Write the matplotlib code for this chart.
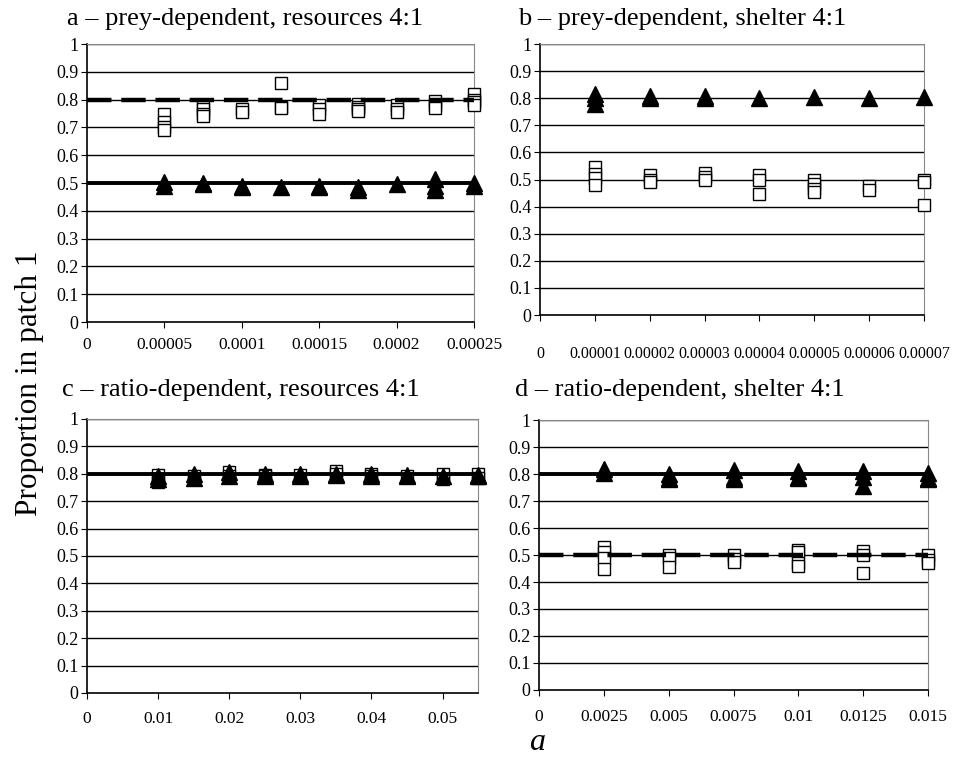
import numpy as np
import matplotlib
matplotlib.use("Agg")
import matplotlib.pyplot as plt

plt.rcParams["font.family"] = ["Liberation Serif", "DejaVu Serif"]

# ---- data: replicate values per a value ----
# panel a - prey-dependent, resources 4:1
a_x = [0.00005, 0.000075, 0.0001, 0.000125, 0.00015, 0.000175, 0.0002, 0.000225, 0.00025]
a_sq = [[0.75, 0.72, 0.70, 0.69], [0.78, 0.765, 0.75, 0.74], [0.765, 0.755],
        [0.86, 0.775, 0.77], [0.78, 0.765, 0.75], [0.785, 0.775, 0.765, 0.76],
        [0.78, 0.765, 0.755], [0.795, 0.78, 0.77], [0.82, 0.80, 0.79, 0.78]]
a_tri = [[0.505, 0.49], [0.50, 0.495], [0.49, 0.485], [0.485], [0.485, 0.49],
         [0.485, 0.475], [0.495], [0.515, 0.49, 0.475], [0.50, 0.49]]

# panel b - prey-dependent, shelter 4:1
b_x = [0.00001, 0.00002, 0.00003, 0.00004, 0.00005, 0.00006, 0.00007]
b_sq = [[0.545, 0.52, 0.505, 0.48], [0.515, 0.50, 0.49], [0.525, 0.51, 0.50],
        [0.515, 0.50, 0.445], [0.50, 0.485, 0.465, 0.455], [0.475, 0.46],
        [0.50, 0.49, 0.405]]
b_tri = [[0.815, 0.80, 0.78], [0.81, 0.80], [0.81, 0.80], [0.80], [0.805], [0.80], [0.805]]

# panel c - ratio-dependent, resources 4:1
c_x = [0.01, 0.015, 0.02, 0.025, 0.03, 0.035, 0.04, 0.045, 0.05, 0.055]
c_sq = [[0.795, 0.77], [0.79, 0.78], [0.805, 0.79], [0.795, 0.79], [0.795],
        [0.81, 0.80], [0.80, 0.79], [0.79], [0.80, 0.78], [0.80, 0.785]]
c_tri = [[0.79, 0.78], [0.80, 0.785], [0.805, 0.79], [0.80, 0.79], [0.80, 0.79],
         [0.80, 0.795], [0.80, 0.79], [0.795, 0.79], [0.79], [0.795, 0.79]]

# panel d - ratio-dependent, shelter 4:1
d_x = [0.0025, 0.005, 0.0075, 0.01, 0.0125, 0.015]
d_sq = [[0.53, 0.51, 0.49, 0.45], [0.50, 0.49, 0.455], [0.50, 0.485, 0.475],
        [0.52, 0.51, 0.47, 0.46], [0.515, 0.50, 0.435], [0.50, 0.48, 0.47]]
d_tri = [[0.82, 0.805], [0.80, 0.785, 0.78], [0.815, 0.79, 0.78],
         [0.81, 0.79, 0.785], [0.81, 0.79, 0.755], [0.805, 0.785, 0.78]]

titles = ["a \u2013 prey-dependent, resources 4:1", "b \u2013 prey-dependent, shelter 4:1",
          "c \u2013 ratio-dependent, resources 4:1", "d \u2013 ratio-dependent, shelter 4:1"]
a_ticks = [0, 0.00005, 0.0001, 0.00015, 0.0002, 0.00025]
a_ticklabels = ["0", "0.00005", "0.0001", "0.00015", "0.0002", "0.00025"]
b_ticks = [0, 0.00001, 0.00002, 0.00003, 0.00004, 0.00005, 0.00006, 0.00007]
b_ticklabels = ["0", "0.00001", "0.00002", "0.00003", "0.00004", "0.00005", "0.00006", "0.00007"]
c_ticks = [0, 0.01, 0.02, 0.03, 0.04, 0.05]
c_ticklabels = ["0", "0.01", "0.02", "0.03", "0.04", "0.05"]
d_ticks = [0, 0.0025, 0.005, 0.0075, 0.01, 0.0125, 0.015]
d_ticklabels = ["0", "0.0025", "0.005", "0.0075", "0.01", "0.0125", "0.015"]
y_ticks = [round(0.1 * i, 1) for i in range(11)]
y_ticklabels = ["0", "0.1", "0.2", "0.3", "0.4", "0.5", "0.6", "0.7", "0.8", "0.9", "1"]

# expected proportions (solid / dashed reference lines)
a_solid, a_dash = 0.5, 0.8
c_solid = 0.8
d_solid, d_dash = 0.8, 0.5

fig = plt.figure(figsize=(9.66, 7.62), dpi=100)


def flat(xs, groups):
    px, py = [], []
    for x, ys in zip(xs, groups):
        for v in ys:
            px.append(x)
            py.append(v)
    return px, py


def panel(rect, xs, sq, tri, xmax, ticks, ticklabels, xfs=12.5, xpad=7,
          solid=None, dash=None):
    ax = fig.add_axes(rect)
    ax.set_xlim(0, xmax)
    ax.set_ylim(0, 1)
    for yv in y_ticks[1:]:
        ax.axhline(yv, color="black", lw=1.0, zorder=1)
    ax.spines["top"].set_color("#888888")
    ax.spines["right"].set_color("#888888")
    ax.spines["left"].set_linewidth(1.2)
    ax.spines["bottom"].set_linewidth(1.2)
    ax.set_xticks(ticks)
    ax.set_xticklabels(ticklabels, fontsize=xfs)
    ax.set_yticks(y_ticks)
    ax.set_yticklabels(y_ticklabels, fontsize=13)
    ax.tick_params(axis="x", direction="out", length=4, pad=xpad)
    ax.tick_params(axis="y", direction="out", length=4, pad=2)
    sx, sy = flat(xs, sq)
    ax.plot(sx, sy, "s", ms=8.5, mfc="white", mec="black", mew=1.0,
            zorder=3, clip_on=False)
    tx, ty = flat(xs, tri)
    ax.plot(tx, ty, "^", ms=11, mfc="black", mec="black", zorder=4, clip_on=False)
    if solid is not None:
        ax.plot([0, xmax], [solid, solid], color="black", lw=2.8, zorder=5,
                solid_capstyle="butt")
    if dash is not None:
        ax.plot([0, xmax], [dash, dash], color="black", lw=3.2, zorder=5,
                dashes=(5.5, 2.2), dash_capstyle="butt")
    return ax


panel([0.0901, 0.5774, 0.4006, 0.3648], a_x, a_sq, a_tri, 0.00025,
      a_ticks, a_ticklabels, solid=a_solid, dash=a_dash)
panel([0.5590, 0.5866, 0.3975, 0.3556], b_x, b_sq, b_tri, 0.00007,
      b_ticks, b_ticklabels, xfs=11.5, xpad=18)
panel([0.0901, 0.0906, 0.4048, 0.3596], c_x, c_sq, c_tri, 0.055,
      c_ticks, c_ticklabels, xpad=9, solid=c_solid)
panel([0.5580, 0.0945, 0.4027, 0.3543], d_x, d_sq, d_tri, 0.015,
      d_ticks, d_ticklabels, xpad=10, solid=d_solid, dash=d_dash)

fig.text(67 / 966, 1 - 19 / 762, titles[0], fontsize=19, ha="left", va="center")
fig.text(518 / 966, 1 - 19 / 762, titles[1], fontsize=19, ha="left", va="center")
fig.text(62 / 966, 1 - 390 / 762, titles[2], fontsize=19, ha="left", va="center")
fig.text(515 / 966, 1 - 390 / 762, titles[3], fontsize=19, ha="left", va="center")

fig.text(30 / 966, 1 - 383 / 762, "Proportion in patch 1", fontsize=22.5,
         rotation=90, ha="center", va="center")
fig.text(537 / 966, 1 - 742 / 762, "a", fontsize=23, style="italic",
         ha="center", va="center")

fig.savefig("out.png", dpi=100)
